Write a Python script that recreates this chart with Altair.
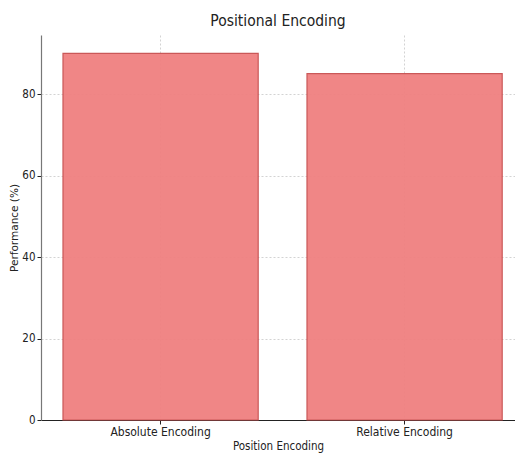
import altair as alt
import pandas as pd

categories = ["Absolute Encoding", "Relative Encoding"]
performance = [90, 85]
y_ticks = [0, 20, 40, 60, 80]

df = pd.DataFrame({"Position Encoding": categories, "Performance (%)": performance})

COND = "DejaVu Sans Condensed"
DEJAVU = "DejaVu Sans"

bars = alt.Chart(df).mark_bar(
    color="#f08080", stroke="#c85050", strokeWidth=1.2, opacity=0.95
).encode(
    x=alt.X(
        "Position Encoding:N",
        sort=categories,
        scale=alt.Scale(paddingInner=0.2, paddingOuter=0.0713, align=0.632),
        axis=alt.Axis(
            title="Position Encoding", labelAngle=0, grid=True,
            gridDash=[2, 2], gridColor="#c8c8c8", gridWidth=0.8,
            domainColor="#222222", domainWidth=1.2,
            tickColor="#222222", tickSize=4,
            labelFontSize=12, titleFontSize=11.5, labelFont=COND, titleFont=COND,
            labelColor="#222222", titleColor="#222222", labelPadding=2,
            titleY=20, titleBaseline="top",
            titleFontWeight="normal",
        ),
    ),
    y=alt.Y(
        "Performance (%):Q",
        scale=alt.Scale(domain=[0, 94.5], nice=False),
        axis=alt.Axis(
            title="Performance (%)", values=y_ticks, grid=True,
            gridDash=[2, 2], gridColor="#c8c8c8", gridWidth=0.8,
            domainColor="#777777", domainWidth=1.2,
            tickColor="#222222", tickSize=4,
            labelFontSize=11.5, titleFontSize=10.5, labelFont=COND, titleFont=DEJAVU,
            labelColor="#222222", titleColor="#222222", labelPadding=2, titlePadding=2,
            titleFontWeight="normal",
        ),
    ),
)

chart = bars.properties(
    width=474,
    height=385,
    title=alt.TitleParams("Positional Encoding", fontSize=15.5, font=COND,
                          fontWeight="normal", color="#222222", offset=6),
    autosize=alt.AutoSizeParams(type="none"),
    padding={"left": 33, "top": 27, "right": 0, "bottom": 36},
).configure_view(stroke=None)

chart.save("out.html", embed_options={"renderer": "svg", "actions": False})
